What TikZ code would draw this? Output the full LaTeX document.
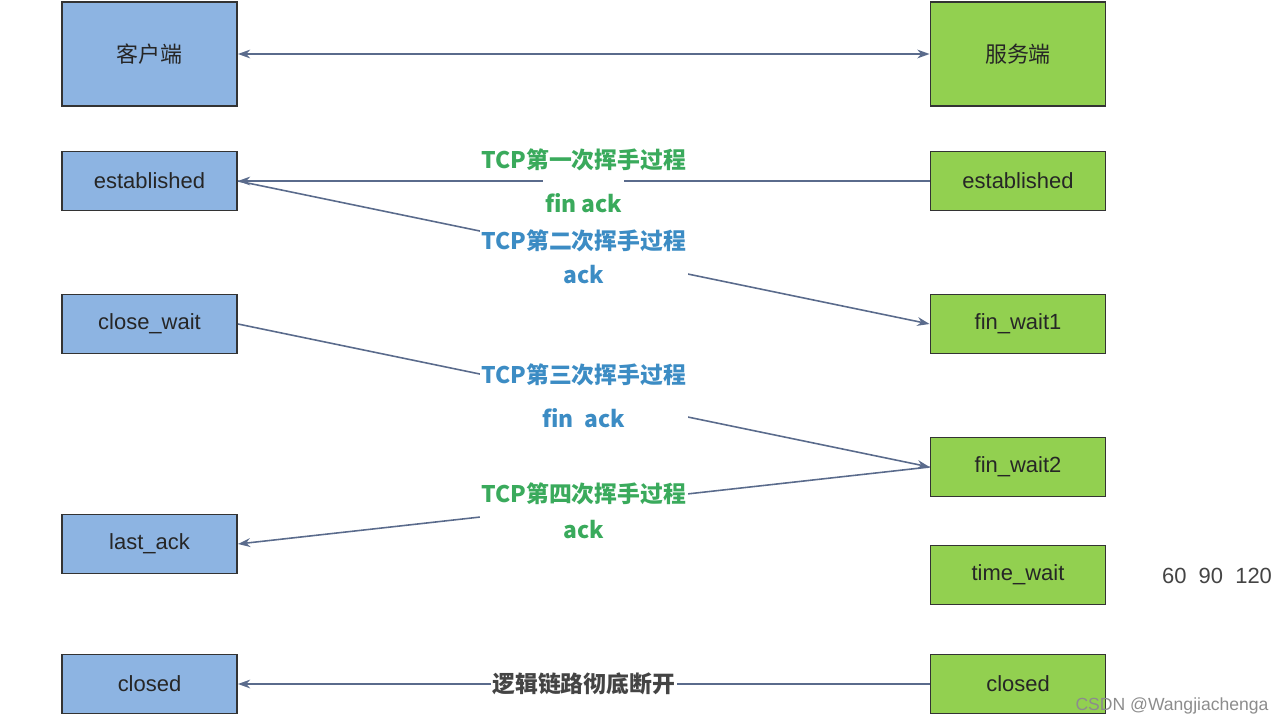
\documentclass[tikz,border=0pt]{standalone}
\usepackage{fontspec}
\setmainfont{Liberation Sans}
\newfontfamily\cjk{Noto Sans CJK SC}
\usetikzlibrary{arrows.meta,%
                positioning}

\definecolor{kehublue}{HTML}{8DB4E2}
\definecolor{fuwugreen}{HTML}{92D050}
\definecolor{boxline}{HTML}{333333}
\definecolor{arrowline}{HTML}{5A6B8C}
\definecolor{tcpgreen}{HTML}{3AAA5C}
\definecolor{tcpblue}{HTML}{3C8CC4}
\definecolor{notegray}{HTML}{444444}

\begin{document}
\begin{tikzpicture}[x=0.02cm,y=-0.02cm,
        client/.style={draw=boxline,line width=1.1pt,fill=kehublue,
            minimum width=3.5cm,minimum height=1.18cm,text=black!85,
            font=\fontsize{12.5}{15}\selectfont},
        server/.style={client,fill=fuwugreen},
        msg/.style={draw=arrowline,line width=0.9pt,-{Stealth[length=7pt,width=5pt]}},
        steplabel/.style={fill=white,align=center,inner sep=1pt,
            font=\cjk\bfseries\fontsize{13}{25}\selectfont}]
    \useasboundingbox (0,0) rectangle (1284,726);
    % client side
    \node[client,minimum height=2.08cm] (kehu) at (149.5,54) {\cjk 客户端};
    \node[client] (c_est) at (149.5,181) {established};
    \node[client] (c_closewait) at (149.5,324) {close\_wait};
    \node[client] (c_lastack) at (149.5,544) {last\_ack};
    \node[client] (c_closed) at (149.5,684) {closed};
    % server side
    \node[server,minimum height=2.08cm] (fuwu) at (1018,54) {\cjk 服务端};
    \node[server] (s_est) at (1018,181) {established};
    \node[server] (s_finwait1) at (1018,324) {fin\_wait1};
    \node[server] (s_finwait2) at (1018,467) {fin\_wait2};
    \node[server] (s_timewait) at (1018,575) {time\_wait};
    \node[server] (s_closed) at (1018,684) {closed};
    \node[text=notegray,font=\fontsize{12.5}{15}\selectfont] (timeout) at (1217,576) {60\ \ 90\ \ 120};

    \draw[msg,{Stealth[length=7pt,width=5pt]}-{Stealth[length=7pt,width=5pt]}] (kehu) -- (fuwu);
    \draw[msg] (s_est) -- node[steplabel,text=tcpgreen] {\makebox[0pt]{TCP第一次挥手过程}\\fin ack} (c_est);
    \draw[msg] (c_est.east) -- node[steplabel,text=tcpblue,yshift=-2.3pt] {TCP第二次挥手过程\\[-5.5pt]ack} (s_finwait1.west);
    \draw[msg] (c_closewait.east) -- node[steplabel,text=tcpblue] {TCP第三次挥手过程\\fin\ \ ack} (s_finwait2.west);
    \draw[msg] (s_finwait2.west) -- node[steplabel,text=tcpgreen,yshift=-3pt] {TCP第四次挥手过程\\[-4pt]ack} (c_lastack.east);
    \draw[msg] (s_closed) -- node[steplabel,text=notegray] {逻辑链路彻底断开} (c_closed);

    \node[text=black!45,font=\fontsize{10}{12}\selectfont] (mark) at (1172,706) {CSDN @Wangjiachenga};
\end{tikzpicture}
\end{document}
